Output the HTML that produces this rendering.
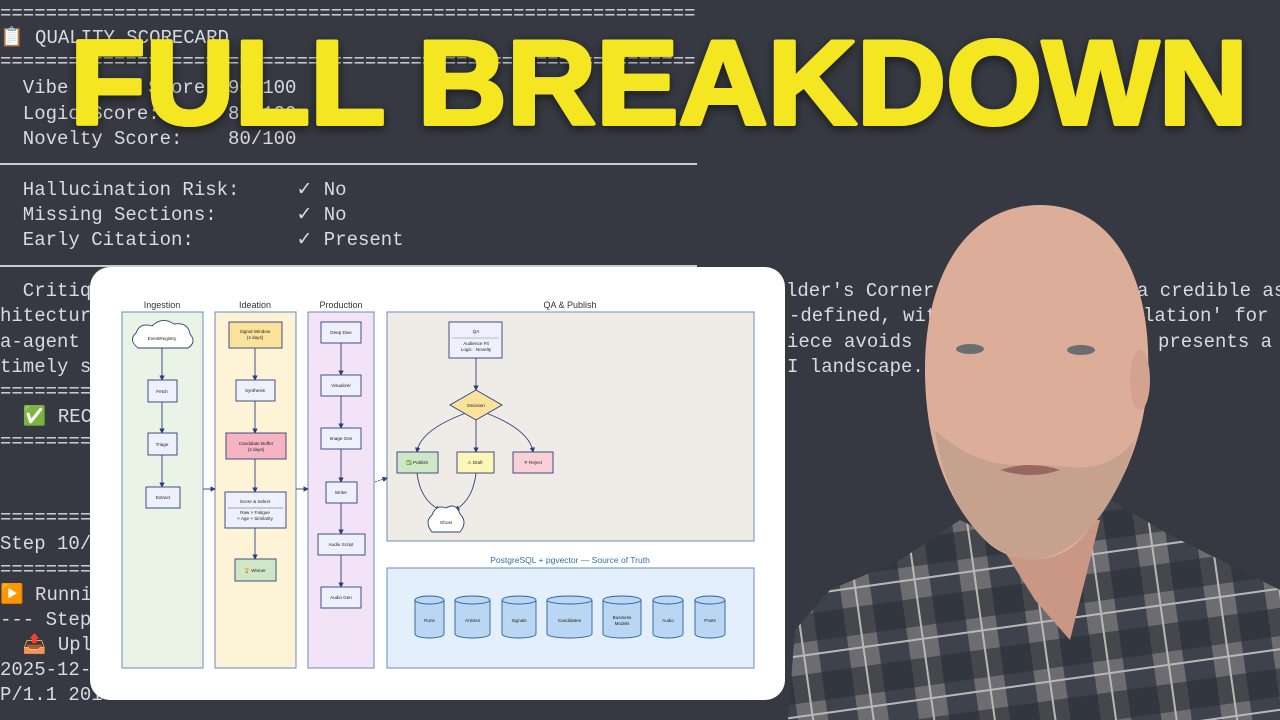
<!DOCTYPE html>
<html><head><meta charset="utf-8">
<style>
html,body{margin:0;padding:0}
body{width:1280px;height:720px;overflow:hidden;background:#363941;position:relative;font-family:"Liberation Mono",monospace;}
.t{position:absolute;left:0;font-size:19px;color:#d9dbe0;white-space:pre;line-height:20px;}
.hr{position:absolute;left:0;width:697px;height:2px;background:#c9cbd0;}
svg{position:absolute;left:0;top:0}
</style></head><body>
<div class="t" style="top:4px">=============================================================</div>
<div class="t" style="top:28px">📋 QUALITY SCORECARD</div>
<div class="t" style="top:52px">=============================================================</div>
<div class="t" style="top:78px">  Vibe Coder Score: 90/100</div>
<div class="t" style="top:104px">  Logic Score:      85/100</div>
<div class="t" style="top:129px">  Novelty Score:    80/100</div>
<div class="hr" style="top:163px"></div>
<div class="t" style="top:180px">  Hallucination Risk:     ✓ No</div>
<div class="t" style="top:205px">  Missing Sections:       ✓ No</div>
<div class="t" style="top:230px">  Early Citation:         ✓ Present</div>
<div class="hr" style="top:265px"></div>
<div class="t" style="top:281px">  Critique</div>
<div class="t" style="top:306px">hitecture</div>
<div class="t" style="top:332px">a-agent </div>
<div class="t" style="top:357px">timely s</div>
<div class="t" style="top:382px">========</div>
<div class="t" style="top:407px">  ✅ REC</div>
<div class="t" style="top:432px">========</div>
<div class="t" style="top:508px">========</div>
<div class="t" style="top:534px">Step 10/</div>
<div class="t" style="top:560px">========</div>
<div class="t" style="top:585px">▶️ Runni</div>
<div class="t" style="top:610px">--- Step</div>
<div class="t" style="top:635px">  📤 Upl</div>
<div class="t" style="top:660px">2025-12-</div>
<div class="t" style="top:685px">P/1.1 201 Created</div>
<div class="t" style="top:281px;left:786px">lder's Corner</div>
<div class="t" style="top:281px;left:1137px">a credible as</div>
<div class="t" style="top:306px;left:789px">-defined, wit</div>
<div class="t" style="top:306px;left:1143px">lation' for</div>
<div class="t" style="top:332px;left:787px">iece avoids</div>
<div class="t" style="top:332px;left:1158px">presents a</div>
<div class="t" style="top:357px;left:787px">I landscape.</div>

<!-- person -->
<svg width="1280" height="720" viewBox="0 0 1280 720">
<defs>
<pattern id="plaid" width="60" height="60" patternUnits="userSpaceOnUse" patternTransform="rotate(-8)">
<rect width="60" height="60" fill="#6d6c70"/>
<rect x="0" y="0" width="30" height="60" fill="#2f3440" opacity=".75"/>
<rect x="0" y="0" width="60" height="28" fill="#2a2f36" opacity=".6"/>
<rect x="44" y="0" width="2" height="60" fill="#b9b8b6"/>
<rect x="0" y="40" width="60" height="2" fill="#b9b8b6"/>
</pattern>
</defs>
<path d="M788 720 L795 630 L830 590 L900 560 L960 520 L1000 540 L1060 545 L1110 500 L1170 535 L1230 565 L1280 590 L1280 720 Z" fill="url(#plaid)"/>
<path d="M985 520 L1035 600 L1070 640 L1100 520 Z" fill="#c99784"/>
<path d="M1040 205 C1110 205 1145 270 1148 350 C1152 430 1120 500 1075 545 C1050 565 1010 565 985 540 C945 500 925 440 925 370 C925 270 970 205 1040 205 Z" fill="#dcae9a"/>
<ellipse cx="1140" cy="380" rx="10" ry="30" fill="#d3a38f"/>
<path d="M935 430 C945 500 980 555 1030 560 C1080 558 1120 500 1135 440 C1110 470 1085 470 1050 465 C1010 465 980 470 935 430 Z" fill="#c2a08c" opacity=".85"/>
<ellipse cx="970" cy="349" rx="14" ry="5" fill="#6b6e70"/>
<ellipse cx="1081" cy="350" rx="14" ry="5" fill="#6b6e70"/>
<path d="M1000 470 Q1030 460 1060 470 Q1030 480 1000 470 Z" fill="#9a6660"/>
</svg>

<!-- diagram card -->
<svg width="1280" height="720" viewBox="0 0 1280 720" font-family="Liberation Sans, sans-serif">
<defs>
<marker id="a" markerWidth="6" markerHeight="6" refX="5" refY="3" orient="auto"><path d="M0 0 L6 3 L0 6 Z" fill="#2e3f7a"/></marker>
</defs>
<rect x="90" y="267" width="695" height="433" rx="20" fill="#ffffff"/>
<g font-size="9" fill="#333" text-anchor="middle">
<text x="162" y="308">Ingestion</text><text x="255" y="308">Ideation</text><text x="341" y="308">Production</text><text x="570" y="308">QA &amp; Publish</text>
<text x="570" y="563" fill="#2f6fb0" font-size="8.5">PostgreSQL + pgvector — Source of Truth</text>
</g>
<g stroke="#6b8db8" stroke-width="1">
<rect x="122" y="312" width="81" height="356" fill="#e9f4e6"/>
<rect x="215" y="312" width="81" height="356" fill="#fdf3d6"/>
<rect x="308" y="312" width="66" height="356" fill="#f2e4f6"/>
<rect x="387" y="312" width="367" height="229" fill="#efebe6"/>
<rect x="387" y="568" width="367" height="100" fill="#e3f0fb"/>
</g>
<g stroke="#2e3f7a" stroke-width="0.9" fill="none" marker-end="url(#a)">
<line x1="162" y1="348" x2="162" y2="380"/><line x1="162" y1="402" x2="162" y2="433"/><line x1="162" y1="455" x2="162" y2="487"/>
<line x1="255" y1="348" x2="255" y2="380"/><line x1="255" y1="401" x2="255" y2="433"/><line x1="255" y1="459" x2="255" y2="492"/><line x1="255" y1="528" x2="255" y2="559"/>
<line x1="341" y1="343" x2="341" y2="375"/><line x1="341" y1="396" x2="341" y2="428"/><line x1="341" y1="449" x2="341" y2="482"/><line x1="341" y1="503" x2="341" y2="534"/><line x1="341" y1="555" x2="341" y2="587"/>
<line x1="203" y1="489" x2="215" y2="489"/><line x1="296" y1="489" x2="308" y2="489"/>
<line x1="375" y1="482" x2="387" y2="478" stroke-dasharray="2 1"/>
<line x1="476" y1="358" x2="476" y2="390"/>
<path d="M466 413 Q420 430 417 452"/><line x1="476" y1="420" x2="476" y2="452"/><path d="M486 413 Q530 430 533 452"/>
<path d="M417 473 Q420 500 440 510"/><path d="M476 473 Q473 500 455 510"/>
</g>
<g stroke="#2e3f7a" stroke-width="0.9">
<rect x="148" y="380" width="29" height="22" fill="#eef1fb"/><rect x="148" y="433" width="29" height="22" fill="#eef1fb"/><rect x="146" y="487" width="34" height="21" fill="#eef1fb"/>
<rect x="229" y="322" width="53" height="26" fill="#fbe29a"/><rect x="236" y="380" width="39" height="21" fill="#eef1fb"/><rect x="226" y="433" width="60" height="26" fill="#f5b3c4"/>
<rect x="225" y="492" width="61" height="36" fill="#eef1fb"/><rect x="235" y="559" width="41" height="22" fill="#cfe7c7"/>
<rect x="321" y="322" width="40" height="21" fill="#eef1fb"/><rect x="321" y="375" width="40" height="21" fill="#eef1fb"/><rect x="321" y="428" width="40" height="21" fill="#eef1fb"/>
<rect x="326" y="482" width="31" height="21" fill="#eef1fb"/><rect x="318" y="534" width="47" height="21" fill="#eef1fb"/><rect x="321" y="587" width="40" height="21" fill="#eef1fb"/>
<rect x="449" y="322" width="53" height="36" fill="#eef1fb"/>
<path d="M476 390 L502 405 L476 420 L450 405 Z" fill="#fbe29a"/>
<rect x="397" y="452" width="41" height="21" fill="#cfe7c7"/><rect x="457" y="452" width="37" height="21" fill="#fdf6b8"/><rect x="513" y="452" width="40" height="21" fill="#f9d0d6"/>
<path d="M138 348 Q128 340 136 333 Q140 322 152 326 Q162 316 174 324 Q188 322 190 334 Q197 342 188 348 Z" fill="#fff"/>
<path d="M432 532 Q424 522 432 515 Q436 504 446 508 Q456 502 460 514 Q468 522 460 532 Z" fill="#fff"/>
</g>
<line x1="452" y1="338" x2="499" y2="338" stroke="#888" stroke-width=".6"/>
<line x1="228" y1="508" x2="283" y2="508" stroke="#555" stroke-width=".6"/>
<g font-size="4.6" fill="#222" text-anchor="middle">
<text x="162" y="340">EventRegistry</text><text x="162" y="393">Fetch</text><text x="162" y="446">Triage</text><text x="163" y="499">Extract</text>
<text x="255" y="333">Signal Window</text><text x="255" y="339">(4 days)</text><text x="255" y="392">Synthesis</text>
<text x="256" y="445">Candidate Buffer</text><text x="256" y="451">(4 days)</text>
<text x="255" y="503">Score &amp; Select</text><text x="255" y="514">Raw × Fatigue</text><text x="255" y="520">× Age × Similarity</text>
<text x="255" y="572">🏆 Winner</text>
<text x="341" y="334">Deep Dive</text><text x="341" y="387">Visualizer</text><text x="341" y="440">Image Gen</text><text x="341" y="494">Writer</text><text x="341" y="546">Audio Script</text><text x="341" y="599">Audio Gen</text>
<text x="476" y="333">QA</text><text x="476" y="345">Audience Fit</text><text x="476" y="351">Logic · Novelty</text>
<text x="476" y="407">Decision</text>
<text x="417" y="464">✅ Publish</text><text x="475" y="464">⚠ Draft</text><text x="533" y="464">✕ Reject</text>
<text x="446" y="524">Ghost</text>
</g>
<g stroke="#2e5f9e" stroke-width="0.9" fill="#b9d6f2">
<path d="M415 600 v34 a14.5 4 0 0 0 29 0 v-34"/><ellipse cx="429.5" cy="600" rx="14.5" ry="4"/>
<path d="M455 600 v34 a17.5 4 0 0 0 35 0 v-34"/><ellipse cx="472.5" cy="600" rx="17.5" ry="4"/>
<path d="M502 600 v34 a17 4 0 0 0 34 0 v-34"/><ellipse cx="519" cy="600" rx="17" ry="4"/>
<path d="M547 600 v34 a22.5 4 0 0 0 45 0 v-34"/><ellipse cx="569.5" cy="600" rx="22.5" ry="4"/>
<path d="M603 600 v34 a19 4 0 0 0 38 0 v-34"/><ellipse cx="622" cy="600" rx="19" ry="4"/>
<path d="M653 600 v34 a15 4 0 0 0 30 0 v-34"/><ellipse cx="668" cy="600" rx="15" ry="4"/>
<path d="M695 600 v34 a15 4 0 0 0 30 0 v-34"/><ellipse cx="710" cy="600" rx="15" ry="4"/>
</g>
<g font-size="4.6" fill="#222" text-anchor="middle">
<text x="429.5" y="622">Runs</text><text x="472.5" y="622">Articles</text><text x="519" y="622">Signals</text><text x="569.5" y="622">Candidates</text>
<text x="622" y="619">Business</text><text x="622" y="625">Models</text><text x="668" y="622">Audio</text><text x="710" y="622">Posts</text>
</g>
</svg>

<!-- title -->
<svg width="1280" height="720" viewBox="0 0 1280 720">
<defs><filter id="sh" x="-5%" y="-20%" width="110%" height="140%"><feDropShadow dx="0" dy="3" stdDeviation="5" flood-color="#000" flood-opacity=".55"/></filter></defs>
<text x="70" y="124" font-family="Liberation Sans, sans-serif" font-weight="bold" font-size="120" fill="#f5e622" stroke="#f5e622" stroke-width="4" stroke-linejoin="round" textLength="1178" lengthAdjust="spacingAndGlyphs" filter="url(#sh)">FULL BREAKDOWN</text>
</svg>
</body></html>
